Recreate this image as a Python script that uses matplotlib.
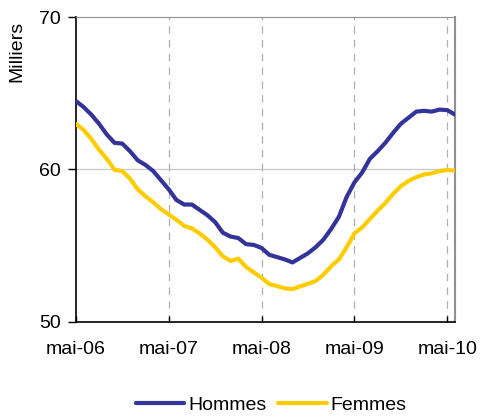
import matplotlib
matplotlib.use("Agg")
import matplotlib.pyplot as plt
import numpy as np

plt.rcParams['font.family'] = ['Liberation Sans', 'DejaVu Sans']

# Monthly series, mai-06 .. juin-10 (milliers)
hommes = [64.5, 64.1, 63.6, 63.0, 62.3, 61.75, 61.7, 61.2, 60.6, 60.3,
          59.9, 59.3, 58.7, 58.0, 57.7, 57.7, 57.35, 57.0, 56.55, 55.85,
          55.6, 55.5, 55.1, 55.05, 54.85, 54.4, 54.25, 54.1, 53.9, 54.2,
          54.5, 54.9, 55.4, 56.1, 56.9, 58.2, 59.15, 59.8, 60.7, 61.2,
          61.75, 62.4, 63.0, 63.4, 63.8, 63.85, 63.8, 63.93, 63.9, 63.6]
femmes = [63.0, 62.6, 62.0, 61.3, 60.7, 59.98, 59.9, 59.4, 58.7, 58.25,
          57.85, 57.4, 57.05, 56.7, 56.3, 56.14, 55.8, 55.4, 54.9, 54.3,
          54.0, 54.15, 53.6, 53.25, 52.9, 52.48, 52.35, 52.2, 52.15, 52.33,
          52.5, 52.68, 53.1, 53.65, 54.1, 54.9, 55.8, 56.2, 56.75, 57.3,
          57.8, 58.4, 58.9, 59.25, 59.5, 59.67, 59.75, 59.9, 59.97, 59.93]
months = np.arange(len(hommes))
tick_pos = [0, 12, 24, 36, 48]
tick_labels = ['mai-06', 'mai-07', 'mai-08', 'mai-09', 'mai-10']

fig = plt.figure(figsize=(4.83, 4.18), dpi=100)
ax = fig.add_axes([0.157, 0.23, 0.785, 0.729])

ax.plot(months, hommes, color='#333399', lw=3.0, label='Hommes',
        solid_capstyle='round', zorder=3)
ax.plot(months, femmes, color='#FFCC00', lw=3.0, label='Femmes',
        solid_capstyle='round', zorder=3)

ax.set_xlim(0, 49)
ax.set_ylim(50, 70)
ax.set_yticks([50, 60, 70])
ax.set_xticks(tick_pos)
ax.set_xticklabels(tick_labels)

# grilles
ax.axhline(60, color='#c8c8c8', lw=0.9, zorder=1)
for p in tick_pos[1:]:
    ax.axvline(p, color='#b0b0b0', lw=0.9, ls=(0, (6, 5)), zorder=1)

ax.spines['left'].set_color('black')
ax.spines['bottom'].set_color('black')
ax.spines['left'].set_linewidth(1.2)
ax.spines['bottom'].set_linewidth(1.2)
ax.spines['top'].set_color('#909090')
ax.spines['right'].set_color('#909090')
ax.spines['right'].set_linewidth(1.5)

ax.tick_params(axis='y', direction='out', length=6, width=1, labelsize=14, pad=5)
ax.tick_params(axis='x', direction='in', length=4, width=1, labelsize=14, pad=14)

fig.text(17 / 483, 1 - 51 / 418, 'Milliers', rotation=90, ha='center',
         va='center', fontsize=14)

ax.legend(loc='center', bbox_to_anchor=(271 / 483, 1 - 405 / 418),
          bbox_transform=fig.transFigure, ncol=2, frameon=False,
          fontsize=14, handlelength=2.5, handletextpad=0.2,
          columnspacing=0.6)

plt.savefig('out.png', dpi=100, facecolor='white')
plt.close()
